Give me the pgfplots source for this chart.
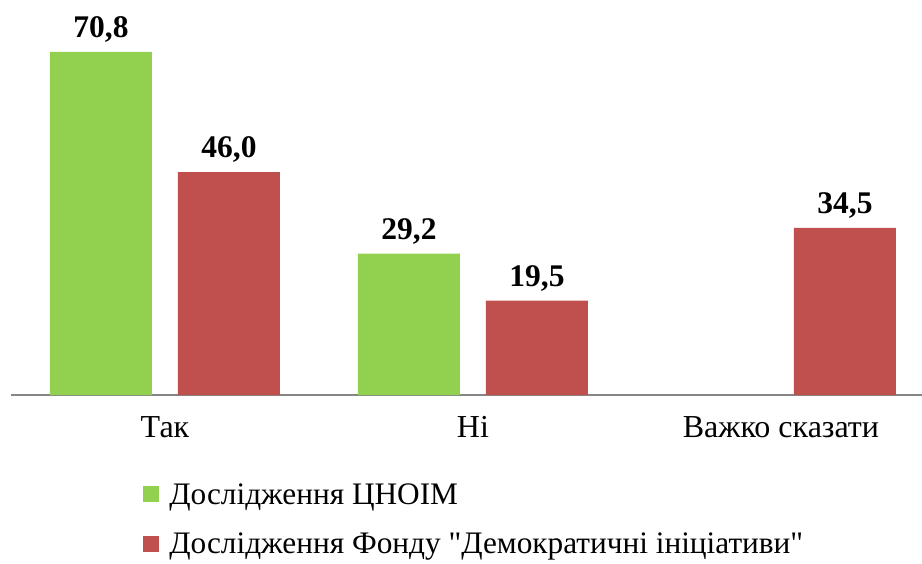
\documentclass[border=0pt]{standalone}
\usepackage{fontspec}
\setmainfont{Liberation Serif}[Ligatures=TeXOff]
\usepackage{pgfplots}
\pgfplotsset{compat=1.18}
\definecolor{cgreen}{HTML}{92D050}
\definecolor{cred}{HTML}{C0504D}
\definecolor{caxis}{HTML}{868686}
\begin{document}
\begin{tikzpicture}
\useasboundingbox (0,-168pt) rectangle (922pt,395pt);
\begin{axis}[
  at={(11pt,0pt)}, anchor=south west,
  scale only axis, width=911pt, height=395pt,
  ybar=26pt, bar width=102pt,
  xmin=-0.5, xmax=2.458, ymin=0, ymax=81.53,
  axis x line*=bottom, axis y line=none,
  x axis line style={caxis, line width=1.5pt},
  xtick={0,1,2}, xticklabels={Так,Ні,Важко сказати},
  major tick length=0pt,
  xticklabel style={font=\fontsize{32}{38}\selectfont, yshift=-18pt},
  ytick=\empty,
  clip=false,
  nodes near coords,
  nodes near coords style={font=\fontsize{31.5}{37}\selectfont\bfseries, yshift=6pt},
  /pgf/number format/use comma,
  /pgf/number format/fixed,
  /pgf/number format/fixed zerofill,
  /pgf/number format/precision=1,
  /pgf/number format/assume math mode=true,
  legend image code/.code={\fill[#1] (0pt,-8pt) rectangle (16pt,8pt);},
  legend style={draw=none, fill=none, inner sep=0pt,
    at={(0.145,-0.218)}, anchor=north west,
    font=\fontsize{31.3}{37}\selectfont, row sep=23pt,
    /tikz/every odd column/.append style={column sep=8pt},
    legend columns=1},
  legend cell align=left,
]
\addplot[draw=none, fill=cgreen] coordinates {(0,70.8) (1,29.2)};
\addplot[draw=none, fill=cred] coordinates {(0,46.0) (1,19.5) (2,34.5)};
\legend{Дослідження ЦНОІМ, Дослідження Фонду "Демократичні ініціативи"}
\end{axis}
\end{tikzpicture}
\end{document}
